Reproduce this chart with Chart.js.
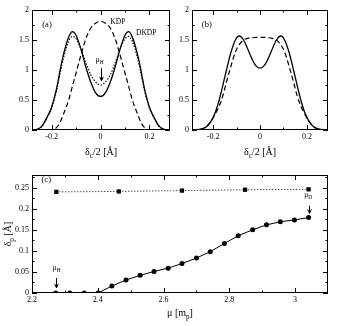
<!DOCTYPE html>
<html>
<head>
<meta charset="utf-8">
<script src="https://cdn.jsdelivr.net/npm/chart.js@4.4.0/dist/chart.umd.min.js"></script>
<style>
  html, body { margin: 0; padding: 0; background: #fff; }
  #fig { position: relative; width: 354px; height: 326px; overflow: hidden; }
  canvas { position: absolute; }
</style>
</head>
<body>
<div id="fig">
  <canvas id="pa" width="178" height="160" style="left:0px;top:0px"></canvas>
  <canvas id="pb" width="194" height="160" style="left:160px;top:0px"></canvas>
  <canvas id="pc" width="354" height="166" style="left:0px;top:160px"></canvas>
</div>
<script>
// panel (a): density profiles, delta_c/2 in Angstrom
const xA    = [-0.28, -0.26, -0.24, -0.22, -0.2, -0.19, -0.18, -0.165, -0.15, -0.13, -0.115, -0.1, -0.08, -0.06, -0.04, -0.02, 0,
               0.02, 0.04, 0.06, 0.08, 0.1, 0.115, 0.13, 0.15, 0.165, 0.18, 0.19, 0.2, 0.22, 0.24, 0.26, 0.28];
const kdpA  = [0, 0, 0, 0, 0, 0.01, 0.04, 0.13, 0.28, 0.5, 0.73, 0.95, 1.25, 1.52, 1.7, 1.78, 1.81,
               1.78, 1.7, 1.52, 1.25, 0.95, 0.73, 0.5, 0.28, 0.13, 0.04, 0.01, 0, 0, 0, 0, 0];
const dkdpA = [0, 0.01, 0.06, 0.2, 0.38, 0.52, 0.68, 1.0, 1.28, 1.55, 1.64, 1.58, 1.35, 1.05, 0.8, 0.62, 0.56,
               0.62, 0.8, 1.05, 1.35, 1.58, 1.64, 1.55, 1.28, 1.0, 0.68, 0.52, 0.38, 0.2, 0.06, 0.01, 0];
const muHA  = [0, 0.01, 0.06, 0.19, 0.36, 0.5, 0.65, 0.95, 1.22, 1.48, 1.56, 1.52, 1.35, 1.12, 0.92, 0.8, 0.75,
               0.8, 0.92, 1.12, 1.35, 1.52, 1.56, 1.48, 1.22, 0.95, 0.65, 0.5, 0.36, 0.19, 0.06, 0.01, 0];

// panel (b)
const xB     = [-0.29, -0.27, -0.25, -0.23, -0.21, -0.193, -0.174, -0.16, -0.143, -0.125, -0.105, -0.089, -0.07, -0.05, -0.03, -0.015, 0,
                0.015, 0.03, 0.05, 0.07, 0.089, 0.105, 0.125, 0.143, 0.16, 0.174, 0.193, 0.21, 0.23, 0.25, 0.27, 0.29];
const solidB = [0, 0.005, 0.02, 0.05, 0.14, 0.27, 0.5, 0.72, 1.0, 1.28, 1.5, 1.567, 1.5, 1.33, 1.15, 1.06, 1.03,
                1.06, 1.15, 1.33, 1.5, 1.567, 1.5, 1.28, 1.0, 0.72, 0.5, 0.27, 0.14, 0.05, 0.02, 0.005, 0];
const dashB  = [0, 0, 0.01, 0.05, 0.14, 0.25, 0.4, 0.55, 0.8, 1.05, 1.3, 1.42, 1.5, 1.53, 1.54, 1.545, 1.545,
                1.545, 1.54, 1.53, 1.5, 1.42, 1.3, 1.05, 0.8, 0.55, 0.4, 0.25, 0.14, 0.05, 0.01, 0, 0];

// panel (c): delta_p versus mass mu
const muC    = [2.272, 2.315, 2.359, 2.401, 2.443, 2.486, 2.529, 2.571, 2.614, 2.656, 2.700, 2.742, 2.785, 2.827, 2.871, 2.913, 2.955, 2.998, 3.041];
const deltaC = [0, 0, 0, 0, 0.0166, 0.031, 0.042, 0.051, 0.059, 0.070, 0.083, 0.098, 0.1175, 0.136, 0.150, 0.1617, 0.169, 0.1735, 0.179];
const muSq    = [2.274, 2.464, 2.656, 2.848, 3.041];
const deltaSq = [0.240, 0.241, 0.243, 0.245, 0.246];

// tick labels
const ticksABx = [-0.2, 0, 0.2];
const ticksABy = [0, 0.5, 1, 1.5, 2];
const minorABx = [-0.1, 0.1];
const minorABy = [0.25, 0.75, 1.25, 1.75];
const ticksCx = [2.2, 2.4, 2.6, 2.8, 3];
const ticksCy = [0, 0.05, 0.1, 0.15, 0.2, 0.25];
const minorCx = [2.3, 2.5, 2.7, 2.9];
const minorCy = [0.025, 0.075, 0.125, 0.175, 0.225, 0.275];

const FONT = '"Liberation Serif"';
Chart.defaults.font.family = 'Liberation Serif';
Chart.defaults.color = '#000';

function serie(xs, ys) {
    return xs.map((x, i) => ({ x: x, y: ys[i] }));
}

function drawRich(ctx, parts, x, y, size, align) {
    const fonts = parts.map(p => (p.sub ? size * 0.72 : size) + 'px ' + FONT);
    const widths = parts.map((p, i) => { ctx.font = fonts[i]; return ctx.measureText(p.t).width; });
    const total = widths.reduce((s, w) => s + w, 0);
    let cx = align === 'center' ? x - total / 2 : x;
    ctx.textAlign = 'left';
    ctx.textBaseline = 'middle';
    ctx.fillStyle = '#000';
    parts.forEach((p, i) => {
        ctx.font = fonts[i];
        ctx.fillText(p.t, cx, p.sub ? y + size * 0.38 : y);
        cx += widths[i];
    });
}

// frame, inward ticks, annotations and axis titles
function decor(o) {
    return {
        id: 'decor',
        afterDatasetsDraw(chart) {
            const { ctx, chartArea: a } = chart;
            const x = chart.scales.x, y = chart.scales.y;
            ctx.save();
            ctx.strokeStyle = '#000';
            ctx.lineWidth = 1;
            ctx.setLineDash([]);
            ctx.strokeRect(a.left + 0.5, a.top + 0.5, a.right - a.left - 1, a.bottom - a.top - 1);

            const line = (x1, y1, x2, y2) => {
                ctx.beginPath(); ctx.moveTo(x1, y1); ctx.lineTo(x2, y2); ctx.stroke();
            };
            const marks = (list, len, axis) => list.forEach(v => {
                if (axis === 'x') {
                    const p = Math.round(x.getPixelForValue(v)) + 0.5;
                    line(p, a.bottom, p, a.bottom - len);
                    line(p, a.top, p, a.top + len);
                } else {
                    const p = Math.round(y.getPixelForValue(v)) + 0.5;
                    line(a.left, p, a.left + len, p);
                    line(a.right, p, a.right - len, p);
                }
            });
            marks(o.xMajor, 5, 'x');
            marks(o.xMinor, 2.5, 'x');
            marks(o.yMajor, 5, 'y');
            marks(o.yMinor, 2.5, 'y');

            (o.notes || []).forEach(n => {
                drawRich(ctx, n.text, x.getPixelForValue(n.x), y.getPixelForValue(n.y), n.size || 7.5, 'left');
            });
            (o.arrows || []).forEach(ar => {
                const px = Math.round(x.getPixelForValue(ar.x)) + 0.5;
                const y1 = y.getPixelForValue(ar.y1), y2 = y.getPixelForValue(ar.y2);
                line(px, y1, px, y2);
                line(px - 1.8, y2 - 4, px, y2);
                line(px + 1.8, y2 - 4, px, y2);
            });

            const cxm = (a.left + a.right) / 2;
            drawRich(ctx, o.xTitle, cxm, a.bottom + o.xTitleGap, 10, 'center');
            if (o.yTitle) {
                ctx.translate(8, (a.top + a.bottom) / 2);
                ctx.rotate(-Math.PI / 2);
                drawRich(ctx, o.yTitle, 0, 0, 10, 'center');
            }
            ctx.restore();
        }
    };
}

function panel(id, p) {
    const ctx = document.getElementById(id);
    return new Chart(ctx, {
        type: 'line',
        data: { datasets: p.datasets },
        options: {
            responsive: false,
            animation: false,
            devicePixelRatio: 1,
            layout: { padding: p.padding },
            plugins: { legend: { display: false }, tooltip: { enabled: false } },
            scales: {
                x: {
                    type: 'linear', min: p.xMin, max: p.xMax,
                    grid: { display: false, drawTicks: false },
                    border: { display: false },
                    ticks: { font: { size: 8 }, padding: 2, maxRotation: 0, autoSkip: false, callback: v => String(v) },
                    afterBuildTicks: s => { s.ticks = p.xTicks.map(v => ({ value: v })); },
                    afterFit: s => { s.height = p.xHeight; }
                },
                y: {
                    type: 'linear', min: p.yMin, max: p.yMax,
                    grid: { display: false, drawTicks: false },
                    border: { display: false },
                    ticks: { font: { size: 8 }, padding: 3, autoSkip: false, callback: v => String(v) },
                    afterBuildTicks: s => { s.ticks = p.yTicks.map(v => ({ value: v })); },
                    afterFit: s => { s.width = 32; }
                }
            }
        },
        plugins: [decor(p.decor)]
    });
}

const curve = (data, width, dash) => ({
    data: data, borderColor: '#000', borderWidth: width, borderDash: dash,
    pointRadius: 0, cubicInterpolationMode: 'monotone', fill: false
});

const deltaTitle = [{ t: 'δ' }, { t: 'c', sub: true }, { t: '/2 [Å]' }];

panel('pa', {
    xMin: -0.28, xMax: 0.284, yMin: 0, yMax: 2,
    xTicks: ticksABx, yTicks: ticksABy,
    padding: { left: 0, top: 10, right: 8, bottom: 0 }, xHeight: 30,
    datasets: [
        curve(serie(xA, kdpA), 1.2, [5, 3]),
        curve(serie(xA, muHA), 1.2, [1.4, 1.6]),
        curve(serie(xA, dkdpA), 1.3, [])
    ],
    decor: {
        xMajor: ticksABx, xMinor: minorABx, yMajor: ticksABy, yMinor: minorABy,
        xTitle: deltaTitle, xTitleGap: 22,
        notes: [
            { text: [{ t: '(a)' }], x: -0.238, y: 1.75, size: 8.5 },
            { text: [{ t: 'KDP' }], x: 0.04, y: 1.805 },
            { text: [{ t: 'DKDP' }], x: 0.145, y: 1.62 },
            { text: [{ t: 'μ' }, { t: 'H', sub: true }], x: -0.02, y: 1.167 }
        ],
        arrows: [{ x: 0, y1: 1.03, y2: 0.82 }]
    }
});

panel('pb', {
    xMin: -0.29, xMax: 0.29, yMin: 0, yMax: 2,
    xTicks: ticksABx, yTicks: ticksABy,
    padding: { left: 0, top: 10, right: 26, bottom: 0 }, xHeight: 30,
    datasets: [
        curve(serie(xB, dashB), 1.2, [5, 3]),
        curve(serie(xB, solidB), 1.3, [])
    ],
    decor: {
        xMajor: ticksABx, xMinor: minorABx, yMajor: ticksABy, yMinor: minorABy,
        xTitle: deltaTitle, xTitleGap: 22,
        notes: [{ text: [{ t: '(b)' }], x: -0.248, y: 1.75, size: 8.5 }]
    }
});

panel('pc', {
    xMin: 2.2, xMax: 3.1, yMin: 0, yMax: 0.28,
    xTicks: ticksCx, yTicks: ticksCy,
    padding: { left: 0, top: 15, right: 26, bottom: 0 }, xHeight: 33,
    datasets: [
        {
            data: serie(muSq, deltaSq), borderColor: '#000', borderWidth: 1, borderDash: [1, 2],
            pointStyle: 'rect', pointRadius: 3, pointBackgroundColor: '#000', pointBorderWidth: 0
        },
        {
            data: serie(muC, deltaC), borderColor: '#000', borderWidth: 1,
            pointStyle: 'circle', pointRadius: 2.5, pointBackgroundColor: '#000', pointBorderWidth: 0
        }
    ],
    decor: {
        xMajor: ticksCx, xMinor: minorCx, yMajor: ticksCy, yMinor: minorCy,
        xTitle: [{ t: 'μ [m' }, { t: 'p', sub: true }, { t: ']' }], xTitleGap: 20,
        yTitle: [{ t: 'δ' }, { t: 'p', sub: true }, { t: ' [Å]' }],
        notes: [
            { text: [{ t: '(c)' }], x: 2.229, y: 0.268, size: 8.5 },
            { text: [{ t: 'μ' }, { t: 'H', sub: true }], x: 2.263, y: 0.059 },
            { text: [{ t: 'μ' }, { t: 'D', sub: true }], x: 3.028, y: 0.233 }
        ],
        arrows: [
            { x: 2.272, y1: 0.0355, y2: 0.012 },
            { x: 3.041, y1: 0.207, y2: 0.189 }
        ]
    }
});
</script>
</body>
</html>
